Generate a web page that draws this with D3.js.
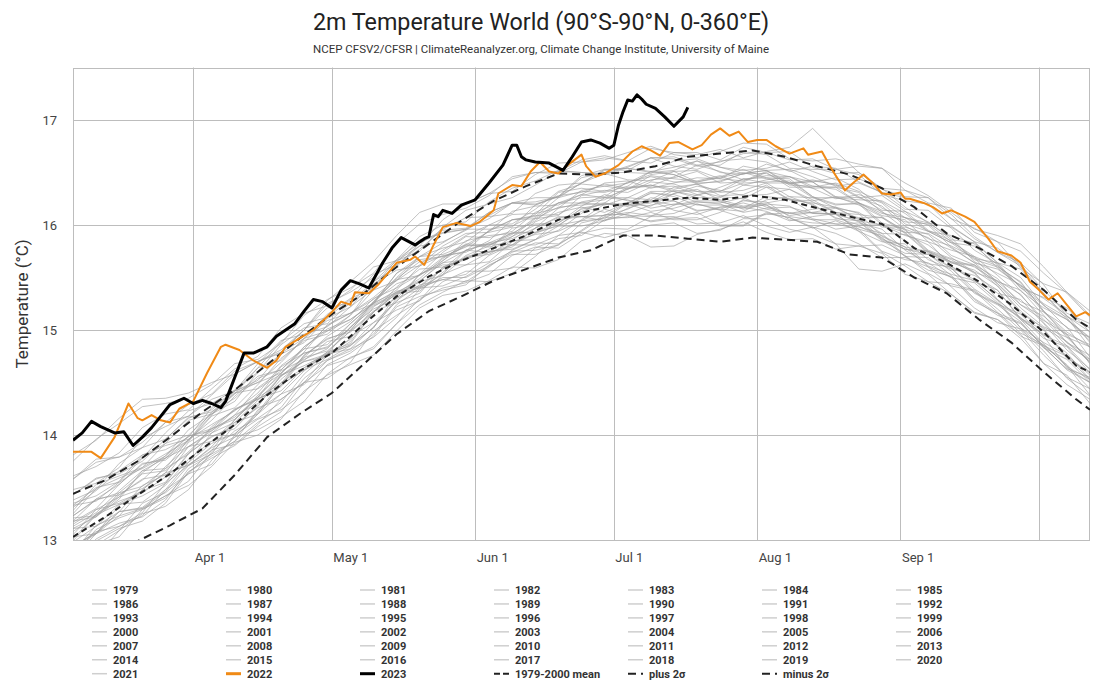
<!DOCTYPE html>
<html><head><meta charset="utf-8">
<script src="https://cdn.jsdelivr.net/npm/d3@7"></script>
<style>
body{margin:0;background:#fff;}
text{font-family:Roboto,"Noto Sans",sans-serif;}
</style>
</head><body>
<svg id="chart" width="1100" height="700"></svg>
<script>
// ---------- DATA (day-of-year 2023 calendar, °C) ----------
const titleText = "2m Temperature World (90°S-90°N, 0-360°E)";
const subtitleText = "NCEP CFSV2/CFSR | ClimateReanalyzer.org, Climate Change Institute, University of Maine";
const yTicks = [13, 14, 15, 16, 17];
const monthLabels = ["Apr 1", "May 1", "Jun 1", "Jul 1", "Aug 1", "Sep 1"];

const grayDays = [65,70,75,80,85,90,95,100,105,110,115,120,125,130,135,140,145,150,155,160,165,170,175,180,185,190,195,200,205,210,215,220,225,230,235,240,245,250,255,260,265,270,275,280,285];
const t1979 = [12.83,13.06,13.16,13.22,13.38,13.68,13.82,13.94,14.12,14.26,14.54,14.71,14.80,14.96,15.24,15.40,15.42,15.51,15.64,15.75,15.76,15.81,16.02,16.07,16.07,16.12,16.05,16.05,16.12,16.24,16.19,16.05,16.02,16.01,15.96,15.75,15.67,15.64,15.50,15.29,15.14,15.06,14.84,14.62,14.50];
const t1980 = [12.98,13.13,13.34,13.36,13.52,13.77,13.94,14.01,14.20,14.48,14.62,14.79,14.99,15.18,15.26,15.35,15.60,15.69,15.72,15.85,15.86,15.95,16.11,16.26,16.24,16.16,16.20,16.20,16.15,16.13,16.24,16.27,16.19,16.07,16.00,16.00,15.85,15.67,15.58,15.52,15.38,15.11,14.96,14.78,14.53];
const t1981 = [13.11,13.13,13.27,13.52,13.62,13.72,13.85,14.15,14.35,14.42,14.64,14.79,14.87,15.17,15.35,15.40,15.53,15.76,15.82,15.81,15.92,16.00,16.04,16.06,16.21,16.30,16.29,16.22,16.21,16.26,16.17,16.11,16.15,16.17,16.11,15.89,15.79,15.75,15.65,15.55,15.29,15.11,15.00,14.73,14.59];
const t1982 = [12.78,13.01,13.13,13.23,13.48,13.63,13.72,14.00,14.15,14.24,14.40,14.67,14.78,14.94,15.22,15.32,15.38,15.43,15.62,15.72,15.72,15.81,15.95,16.10,16.10,16.03,16.06,16.07,15.99,15.99,16.11,16.07,15.97,16.04,15.94,15.74,15.61,15.46,15.44,15.38,15.20,15.00,14.76,14.55,14.44];
const t1983 = [13.23,13.39,13.43,13.57,13.78,13.99,14.04,14.19,14.45,14.61,14.72,14.82,15.06,15.26,15.36,15.47,15.64,15.76,15.74,15.81,15.97,16.07,16.08,16.09,16.21,16.23,16.19,16.29,16.22,16.17,16.19,16.09,16.12,16.10,15.96,15.90,15.79,15.60,15.50,15.45,15.26,15.02,14.83,14.72,14.50];
const t1984 = [12.91,12.95,13.09,13.35,13.45,13.63,13.86,13.91,14.10,14.34,14.50,14.54,14.69,14.99,15.14,15.28,15.46,15.56,15.56,15.59,15.78,15.87,15.90,16.05,16.08,16.04,16.07,16.12,16.00,16.00,16.12,16.07,15.98,15.82,15.80,15.81,15.71,15.54,15.42,15.37,15.17,14.97,14.86,14.66,14.38];
const t1985 = [12.73,12.84,13.09,13.25,13.32,13.48,13.76,13.98,14.05,14.17,14.32,14.58,14.74,14.82,15.06,15.24,15.36,15.47,15.46,15.54,15.70,15.90,15.93,15.88,15.94,16.00,16.02,15.92,15.95,16.06,16.06,15.96,15.91,15.82,15.58,15.56,15.63,15.53,15.34,15.16,15.10,14.92,14.68,14.57,14.30];
const t1986 = [12.85,13.10,13.21,13.29,13.40,13.65,13.80,13.94,14.24,14.39,14.48,14.71,14.82,14.93,15.12,15.39,15.50,15.50,15.61,15.74,15.83,15.82,15.94,16.08,16.12,16.09,16.11,16.20,16.14,16.07,16.10,16.12,16.05,15.96,15.99,15.88,15.70,15.69,15.52,15.30,15.16,14.94,14.85,14.75,14.52];
const t1987 = [12.95,13.06,13.33,13.47,13.55,13.83,13.98,14.09,14.27,14.57,14.70,14.75,14.92,15.17,15.37,15.41,15.58,15.76,15.83,15.87,15.97,16.16,16.21,16.19,16.26,16.36,16.37,16.29,16.32,16.40,16.41,16.42,16.27,16.16,16.12,15.98,15.98,15.91,15.71,15.62,15.49,15.24,15.09,14.96,14.68];
const t1988 = [13.13,13.26,13.47,13.66,13.68,13.82,14.08,14.24,14.36,14.49,14.76,14.92,14.98,15.17,15.41,15.58,15.60,15.67,15.83,15.92,15.93,15.99,16.16,16.20,16.18,16.31,16.27,16.19,16.19,16.16,16.27,16.25,16.11,16.10,16.04,15.86,15.77,15.75,15.59,15.39,15.25,15.15,14.94,14.64,14.50];
const t1989 = [12.88,13.14,13.23,13.30,13.42,13.56,13.84,14.04,14.16,14.31,14.58,14.77,14.82,15.03,15.28,15.43,15.48,15.46,15.60,15.76,15.86,15.99,15.99,16.04,16.16,16.23,16.14,16.10,16.17,16.17,16.13,16.04,16.08,16.11,16.03,15.85,15.73,15.72,15.56,15.35,15.24,15.08,14.83,14.63,14.55];
const t1990 = [13.15,13.29,13.35,13.47,13.70,13.89,13.94,14.14,14.38,14.57,14.66,14.77,15.03,15.20,15.30,15.53,15.64,15.67,15.77,15.97,16.01,16.02,16.15,16.20,16.20,16.18,16.30,16.37,16.33,16.28,16.29,16.34,16.24,16.12,16.10,16.07,15.95,15.75,15.67,15.54,15.35,15.29,15.06,14.81,14.63];
const t1991 = [13.08,13.24,13.43,13.58,13.62,13.74,14.02,14.19,14.30,14.56,14.70,14.77,14.91,15.22,15.36,15.42,15.59,15.69,15.74,15.79,15.97,16.08,16.08,16.09,16.15,16.26,16.23,16.14,16.15,16.23,16.22,16.08,16.05,16.05,15.98,15.92,15.70,15.57,15.51,15.27,15.16,15.07,14.85,14.67,14.44];
const t1992 = [12.83,12.96,13.03,13.29,13.42,13.52,13.70,13.93,14.00,14.15,14.42,14.57,14.67,14.76,14.99,15.21,15.33,15.37,15.47,15.60,15.59,15.67,15.85,15.92,15.90,15.79,15.80,15.91,15.96,16.03,15.93,15.86,15.87,15.77,15.80,15.73,15.53,15.46,15.34,15.17,15.10,14.96,14.68,14.48,14.34];
const t1993 = [12.75,12.99,13.11,13.18,13.35,13.65,13.78,13.90,14.08,14.22,14.50,14.66,14.73,14.84,15.06,15.30,15.40,15.45,15.53,15.71,15.79,15.78,15.92,15.97,15.96,16.08,16.08,16.01,16.02,16.09,15.99,15.93,15.98,15.92,15.82,15.69,15.69,15.60,15.41,15.21,15.07,15.01,14.80,14.54,14.37];
const t1994 = [12.91,13.06,13.27,13.30,13.46,13.71,13.88,13.98,14.20,14.48,14.62,14.72,14.85,15.07,15.19,15.28,15.53,15.62,15.65,15.84,15.91,15.94,16.04,16.15,16.09,16.08,16.19,16.23,16.23,16.15,16.20,16.18,16.06,16.01,16.02,15.96,15.76,15.63,15.60,15.48,15.28,15.02,14.88,14.76,14.57];
const t1995 = [13.18,13.22,13.39,13.66,13.78,13.89,14.04,14.24,14.34,14.47,14.76,14.91,15.00,15.23,15.33,15.46,15.66,15.81,15.79,15.85,16.03,16.12,16.17,16.12,16.21,16.32,16.32,16.26,16.26,16.38,16.36,16.24,16.21,16.17,16.05,15.92,15.91,15.81,15.64,15.61,15.42,15.18,15.01,14.74,14.60];
const t1996 = [12.93,13.08,13.13,13.26,13.54,13.71,13.82,14.10,14.26,14.34,14.50,14.76,14.86,15.02,15.30,15.41,15.48,15.53,15.71,15.81,15.81,15.90,16.05,16.20,16.20,16.13,16.16,16.22,16.20,16.12,16.16,16.17,16.11,16.11,15.94,15.84,15.82,15.61,15.53,15.47,15.29,15.10,14.87,14.65,14.53];
const t1997 = [13.01,13.25,13.37,13.45,13.60,13.89,14.02,14.12,14.33,14.56,14.74,14.80,14.99,15.27,15.44,15.52,15.66,15.85,15.90,15.92,16.04,16.21,16.29,16.26,16.34,16.43,16.45,16.51,16.40,16.41,16.50,16.36,16.36,16.40,16.32,16.22,16.07,15.94,15.90,15.82,15.59,15.42,15.30,15.14,14.88];
const t1998 = [13.48,13.54,13.69,13.97,14.08,14.18,14.34,14.42,14.64,14.89,15.06,15.12,15.29,15.53,15.62,15.77,15.96,16.07,16.08,16.11,16.30,16.38,16.40,16.53,16.54,16.51,16.55,16.61,16.50,16.48,16.58,16.52,16.41,16.27,16.26,16.18,15.99,15.87,15.80,15.69,15.44,15.24,15.13,14.95,14.68];
const t1999 = [13.03,13.06,13.23,13.48,13.64,13.71,13.89,14.12,14.20,14.39,14.61,14.78,14.85,15.02,15.34,15.46,15.52,15.70,15.75,15.77,15.86,16.05,16.08,16.04,16.11,16.19,16.23,16.13,16.17,16.21,16.15,16.11,16.12,16.16,16.06,15.87,15.77,15.72,15.59,15.36,15.25,15.12,14.92,14.84,14.59];
const t2000 = [12.99,13.24,13.34,13.42,13.54,13.82,13.99,14.06,14.29,14.53,14.71,14.89,14.94,15.07,15.27,15.53,15.62,15.62,15.74,15.89,16.00,16.00,16.13,16.21,16.18,16.21,16.30,16.34,16.24,16.18,16.21,16.25,16.20,16.06,16.04,16.00,15.90,15.84,15.61,15.46,15.38,15.10,14.95,14.85,14.62];
const t2001 = [13.21,13.23,13.41,13.64,13.80,13.99,14.06,14.17,14.36,14.65,14.78,14.84,15.02,15.27,15.48,15.52,15.69,15.80,15.81,15.91,16.07,16.21,16.21,16.24,16.36,16.38,16.32,16.28,16.36,16.44,16.45,16.44,16.27,16.20,16.20,16.00,15.93,15.92,15.78,15.64,15.46,15.27,15.17,15.03,14.74];
const t2002 = [13.35,13.42,13.56,13.81,13.90,13.96,14.14,14.37,14.56,14.62,14.82,15.04,15.16,15.29,15.47,15.70,15.78,15.84,16.00,16.10,16.11,16.16,16.33,16.37,16.34,16.47,16.44,16.42,16.47,16.38,16.43,16.46,16.37,16.36,16.31,16.12,16.03,16.01,15.84,15.70,15.61,15.45,15.18,14.93,14.84];
const t2003 = [13.28,13.53,13.61,13.69,13.82,13.95,14.22,14.40,14.50,14.59,14.79,15.05,15.16,15.31,15.49,15.65,15.70,15.75,15.95,16.05,16.08,16.26,16.32,16.31,16.37,16.51,16.48,16.39,16.42,16.49,16.52,16.38,16.37,16.34,16.21,16.11,16.07,16.00,15.79,15.64,15.58,15.42,15.17,14.96,14.86];
const t2004 = [13.23,13.38,13.45,13.51,13.68,13.96,14.10,14.23,14.40,14.66,14.82,14.86,15.06,15.25,15.38,15.61,15.71,15.74,15.85,16.05,16.09,16.10,16.22,16.26,16.26,16.24,16.36,16.39,16.31,16.33,16.40,16.40,16.26,16.19,16.21,16.13,15.96,15.76,15.68,15.60,15.46,15.38,15.14,14.88,14.70];
const t2005 = [13.31,13.47,13.66,13.81,13.86,13.98,14.26,14.42,14.52,14.78,14.92,14.99,15.14,15.44,15.57,15.61,15.76,15.90,16.00,16.01,16.15,16.32,16.39,16.37,16.40,16.51,16.48,16.40,16.41,16.49,16.49,16.40,16.43,16.38,16.26,16.28,16.13,15.95,15.85,15.68,15.64,15.50,15.23,15.10,14.92];
const t2006 = [13.18,13.39,13.53,13.72,13.78,13.95,14.19,14.40,14.44,14.58,14.84,14.99,15.10,15.25,15.54,15.67,15.70,15.79,15.94,16.13,16.18,16.19,16.29,16.40,16.42,16.35,16.40,16.45,16.44,16.56,16.52,16.40,16.35,16.25,16.29,16.21,16.01,15.94,15.83,15.67,15.60,15.46,15.18,14.98,14.84];
const t2007 = [13.43,13.59,13.63,13.75,13.96,14.17,14.22,14.35,14.54,14.62,14.84,15.01,15.10,15.26,15.54,15.70,15.72,15.81,15.94,16.05,16.06,16.09,16.28,16.33,16.31,16.41,16.39,16.32,16.32,16.44,16.40,16.27,16.26,16.26,16.21,16.02,15.96,15.88,15.69,15.55,15.47,15.34,15.07,14.85,14.72];
const t2008 = [12.93,13.07,13.27,13.31,13.48,13.74,13.92,14.01,14.22,14.50,14.64,14.75,14.89,15.17,15.35,15.37,15.55,15.71,15.80,15.93,15.93,16.02,16.18,16.29,16.23,16.22,16.33,16.32,16.27,16.25,16.36,16.34,16.22,16.12,16.07,16.07,15.92,15.73,15.64,15.57,15.42,15.16,15.02,14.89,14.70];
const t2009 = [13.11,13.22,13.45,13.63,13.66,13.84,14.06,14.25,14.34,14.46,14.74,14.94,15.08,15.30,15.40,15.53,15.74,15.89,15.88,15.94,16.12,16.21,16.26,16.27,16.41,16.46,16.41,16.41,16.46,16.53,16.45,16.39,16.42,16.39,16.27,16.14,16.13,16.03,15.86,15.83,15.64,15.40,15.24,15.02,14.93];
const t2010 = [13.58,13.74,13.79,13.88,14.12,14.29,14.39,14.61,14.70,14.81,15.00,15.21,15.26,15.41,15.67,15.83,15.95,15.97,16.12,16.21,16.19,16.27,16.40,16.49,16.43,16.42,16.51,16.52,16.44,16.42,16.51,16.46,16.35,16.36,16.21,16.09,16.05,15.84,15.76,15.70,15.52,15.33,15.10,14.88,14.76];
const t2011 = [13.05,13.29,13.41,13.49,13.64,13.93,14.06,14.15,14.36,14.59,14.78,14.83,15.02,15.24,15.35,15.49,15.68,15.82,15.81,15.89,16.06,16.17,16.19,16.21,16.35,16.38,16.34,16.39,16.28,16.29,16.38,16.24,16.23,16.27,16.19,16.08,15.93,15.74,15.65,15.62,15.44,15.21,15.03,14.93,14.72];
const t2012 = [13.17,13.30,13.53,13.73,13.76,13.94,14.18,14.26,14.48,14.73,14.90,14.96,15.14,15.38,15.47,15.62,15.80,15.92,15.93,15.98,16.19,16.28,16.31,16.39,16.35,16.37,16.46,16.57,16.51,16.43,16.47,16.46,16.41,16.26,16.24,16.23,16.11,15.94,15.83,15.80,15.62,15.37,15.21,15.10,14.90];
const t2013 = [13.33,13.37,13.55,13.78,13.92,14.00,14.20,14.42,14.50,14.69,14.92,15.09,15.16,15.25,15.50,15.70,15.83,15.96,15.96,15.99,16.10,16.31,16.35,16.32,16.40,16.48,16.51,16.41,16.45,16.50,16.44,16.40,16.41,16.45,16.34,16.16,16.07,16.02,15.88,15.65,15.54,15.43,15.25,15.12,14.83];
const t2014 = [13.25,13.49,13.59,13.68,13.80,14.05,14.20,14.32,14.60,14.77,14.88,15.11,15.22,15.39,15.64,15.86,15.92,15.96,16.12,16.21,16.26,16.26,16.40,16.52,16.54,16.50,16.52,16.61,16.55,16.49,16.52,16.53,16.46,16.37,16.40,16.31,16.15,16.14,15.97,15.76,15.63,15.40,15.31,15.21,14.98];
const t2015 = [13.38,13.48,13.73,13.88,13.96,14.16,14.24,14.42,14.68,14.90,14.96,15.03,15.22,15.46,15.66,15.75,15.98,16.14,16.20,16.26,16.38,16.51,16.50,16.48,16.55,16.64,16.65,16.57,16.60,16.68,16.69,16.70,16.55,16.49,16.50,16.35,16.33,16.26,16.06,15.97,15.84,15.59,15.44,15.36,15.14];
const t2016 = [13.81,13.95,14.16,14.34,14.35,14.40,14.50,14.58,14.70,14.78,15.00,15.28,15.46,15.65,15.90,16.12,16.20,16.20,16.30,16.44,16.50,16.49,16.60,16.64,16.61,16.73,16.69,16.67,16.72,16.64,16.70,16.74,16.92,16.70,16.50,16.34,16.27,16.26,16.10,15.89,15.74,15.64,15.43,15.13,14.98];
const t2017 = [13.58,13.77,13.79,13.93,14.12,14.18,14.38,14.58,14.70,14.79,15.00,15.25,15.36,15.50,15.67,15.89,16.00,16.03,16.22,16.35,16.42,16.52,16.50,16.49,16.56,16.64,16.56,16.53,16.61,16.63,16.60,16.51,16.56,16.54,16.41,16.31,16.26,16.20,15.99,15.84,15.78,15.62,15.38,15.16,15.06];
const t2018 = [13.43,13.58,13.65,13.78,14.02,14.23,14.30,14.43,14.60,14.86,15.02,15.06,15.26,15.46,15.60,15.83,15.93,15.96,16.06,16.21,16.20,16.27,16.45,16.50,16.50,16.49,16.61,16.63,16.55,16.52,16.54,16.60,16.51,16.43,16.44,16.35,16.17,16.02,15.98,15.84,15.64,15.58,15.35,15.10,14.93];
const t2019 = [13.61,13.70,13.83,14.07,14.20,14.24,14.44,14.63,14.75,15.02,15.16,15.23,15.38,15.60,15.66,15.80,16.05,16.20,16.30,16.32,16.48,16.59,16.60,16.62,16.69,16.75,16.67,16.64,16.70,16.78,16.77,16.63,16.61,16.63,16.58,16.54,16.33,16.21,16.16,15.93,15.84,15.75,15.54,15.35,15.12];
const t2020 = [13.75,13.96,14.11,14.27,14.30,14.35,14.48,14.68,14.72,14.87,15.14,15.29,15.40,15.54,15.82,16.01,16.10,16.16,16.28,16.46,16.50,16.51,16.62,16.66,16.61,16.59,16.69,16.69,16.62,16.74,16.69,16.62,16.63,16.53,16.56,16.54,16.40,16.28,16.12,15.96,15.90,15.82,15.60,15.36,15.18];
const t2021 = [13.33,13.50,13.55,13.69,13.92,14.14,14.20,14.39,14.64,14.71,14.92,15.15,15.30,15.40,15.62,15.80,15.84,15.95,16.09,16.21,16.22,16.27,16.47,16.53,16.52,16.64,16.63,16.56,16.57,16.70,16.67,16.54,16.53,16.53,16.48,16.29,16.23,16.20,16.06,15.87,15.74,15.61,15.34,15.13,15.02];

const days2022 = [65,69,71,74,77,79,80,82,84,86,88,91,94,97,98,101,104,107,109,111,114,117,121,123,125,126,129,131,135,138,139,141,143,145,148,151,153,156,157,160,162,164,166,168,170,172,175,176,178,180,183,186,188,190,192,194,196,199,201,203,205,207,209,211,213,215,217,220,223,224,227,229,232,234,236,238,240,242,244,245,246,249,251,253,255,258,260,263,265,268,270,272,274,276,278,280,282,284,285];
const temp2022 = [13.84,13.84,13.78,13.98,14.30,14.16,14.14,14.19,14.14,14.12,14.25,14.32,14.59,14.84,14.86,14.81,14.71,14.64,14.71,14.84,14.92,15.00,15.17,15.27,15.24,15.36,15.35,15.43,15.64,15.67,15.70,15.62,15.81,15.98,16.02,15.99,16.03,16.14,16.30,16.38,16.37,16.51,16.60,16.51,16.49,16.57,16.67,16.56,16.46,16.49,16.57,16.70,16.75,16.71,16.66,16.78,16.79,16.72,16.76,16.86,16.92,16.85,16.89,16.79,16.81,16.81,16.75,16.68,16.73,16.67,16.70,16.54,16.33,16.41,16.48,16.40,16.30,16.29,16.31,16.25,16.25,16.21,16.17,16.11,16.14,16.08,16.03,15.87,15.75,15.71,15.64,15.46,15.38,15.29,15.35,15.24,15.13,15.17,15.14];

const days2023 = [65,67,69,71,74,76,78,80,82,84,86,88,89,91,93,95,97,98,100,102,104,107,109,111,113,115,117,119,121,123,125,127,129,132,134,136,139,141,142,143,144,145,147,149,152,155,158,160,161,162,163,165,168,171,173,175,177,179,181,182,183,184,185,186,187,188,189,191,193,195,197,198];
const temp2023 = [13.95,14.02,14.13,14.08,14.02,14.03,13.90,13.98,14.07,14.18,14.29,14.33,14.35,14.30,14.33,14.30,14.26,14.32,14.55,14.78,14.78,14.84,14.94,15.00,15.06,15.18,15.29,15.27,15.21,15.38,15.47,15.44,15.40,15.64,15.78,15.88,15.81,15.87,15.89,16.10,16.08,16.14,16.11,16.19,16.24,16.40,16.57,16.76,16.76,16.65,16.62,16.60,16.59,16.52,16.65,16.79,16.81,16.78,16.73,16.76,16.95,17.08,17.19,17.18,17.24,17.20,17.15,17.11,17.03,16.94,17.03,17.12];

const climDays = [65,72,79,86,93,100,107,114,121,128,135,142,149,156,163,170,177,184,191,198,205,212,219,226,233,240,247,254,261,268,275,282,285];
const meanTemp = [13.03,13.22,13.43,13.63,13.87,14.10,14.38,14.61,14.78,15.06,15.32,15.51,15.66,15.78,15.90,16.05,16.14,16.20,16.23,16.26,16.24,16.28,16.24,16.16,16.08,16.01,15.78,15.64,15.46,15.24,14.98,14.66,14.60];
const plus2Temp = [13.44,13.57,13.75,13.98,14.22,14.43,14.67,14.92,15.15,15.35,15.60,15.82,16.04,16.23,16.37,16.49,16.48,16.50,16.56,16.65,16.68,16.71,16.65,16.56,16.48,16.35,16.17,15.92,15.78,15.61,15.38,15.10,15.02];
const minus2Temp = [12.72,12.82,12.99,13.14,13.30,13.62,13.98,14.20,14.40,14.68,14.96,15.18,15.32,15.47,15.58,15.69,15.76,15.90,15.90,15.87,15.84,15.88,15.86,15.84,15.72,15.69,15.50,15.35,15.10,14.88,14.60,14.34,14.24];

const grayYears = [
  [1979,t1979],[1980,t1980],[1981,t1981],[1982,t1982],[1983,t1983],[1984,t1984],[1985,t1985],
  [1986,t1986],[1987,t1987],[1988,t1988],[1989,t1989],[1990,t1990],[1991,t1991],[1992,t1992],
  [1993,t1993],[1994,t1994],[1995,t1995],[1996,t1996],[1997,t1997],[1998,t1998],[1999,t1999],
  [2000,t2000],[2001,t2001],[2002,t2002],[2003,t2003],[2004,t2004],[2005,t2005],[2006,t2006],
  [2007,t2007],[2008,t2008],[2009,t2009],[2010,t2010],[2011,t2011],[2012,t2012],[2013,t2013],
  [2014,t2014],[2015,t2015],[2016,t2016],[2017,t2017],[2018,t2018],[2019,t2019],[2020,t2020],[2021,t2021]
];

// ---------- CHART ----------
const svg = d3.select("#chart");
const L = 73, R = 1090, T = 67.5, B = 540;
const dayToDate = d => new Date(2023, 0, d);
const x = d3.scaleTime().domain([dayToDate(65), dayToDate(285)]).range([L, R]);
const y = d3.scaleLinear().domain([13, 17.5]).range([B, T]);

svg.append("rect").attr("width", 1100).attr("height", 700).attr("fill", "#fff");
svg.append("defs").append("clipPath").attr("id", "plotclip")
  .append("rect").attr("x", L).attr("y", T).attr("width", R - L).attr("height", B - T);

// title
svg.append("text").attr("x", 541).attr("y", 30).attr("text-anchor", "middle")
  .attr("font-size", 23.3).attr("fill", "#222").text(titleText);
svg.append("text").attr("x", 541).attr("y", 53).attr("text-anchor", "middle")
  .attr("font-size", 11.5).attr("fill", "#333").text(subtitleText);

// grid
const gridColor = "#bdbdbd";
const gridG = svg.append("g");
const monthStarts = d3.timeMonth.range(dayToDate(66), dayToDate(285));
gridG.selectAll("line.v").data(monthStarts).join("line").attr("class", "v")
  .attr("x1", d => Math.round(x(d)) + 0.5).attr("x2", d => Math.round(x(d)) + 0.5)
  .attr("y1", T).attr("y2", B).attr("stroke", gridColor).attr("stroke-width", 1);
gridG.selectAll("line.h").data(yTicks.filter(v => v > 13)).join("line").attr("class", "h")
  .attr("x1", L).attr("x2", R)
  .attr("y1", d => Math.round(y(d)) + 0.5).attr("y2", d => Math.round(y(d)) + 0.5)
  .attr("stroke", gridColor).attr("stroke-width", 1);
gridG.append("rect").attr("x", L + 0.5).attr("y", Math.round(T) + 0.5)
  .attr("width", R - L - 1).attr("height", B - Math.round(T))
  .attr("fill", "none").attr("stroke", gridColor);

// axes
const yAxis = d3.axisLeft(y).tickValues(yTicks).tickSize(0).tickPadding(16).tickFormat(d3.format("d"));
const yg = svg.append("g").attr("transform", `translate(${L},0)`).call(yAxis);
yg.select(".domain").remove();
yg.selectAll("text").attr("font-size", 13).attr("fill", "#444").attr("font-family", "Roboto");

const labelDates = monthLabels.map(s => d3.timeParse("%b %d %Y")(s + " 2023"));
const xAxis = d3.axisBottom(x).tickValues(labelDates).tickSize(0).tickPadding(13)
  .tickFormat((d, i) => monthLabels[i]);
const xg = svg.append("g").attr("transform", `translate(0,${B})`).call(xAxis);
xg.select(".domain").remove();
xg.selectAll("text").attr("font-size", 13).attr("fill", "#444").attr("text-anchor", "start")
  .attr("dx", 1).attr("font-family", "Roboto");

svg.append("text").attr("transform", "translate(28,304) rotate(-90)")
  .attr("text-anchor", "middle").attr("font-size", 17).attr("fill", "#333")
  .text("Temperature (°C)");

// lines
const line = d3.line().x(d => x(dayToDate(d[0]))).y(d => y(d[1]));
const plot = svg.append("g").attr("clip-path", "url(#plotclip)");

plot.selectAll("path.gray").data(grayYears).join("path").attr("class", "gray")
  .attr("d", d => line(d3.zip(grayDays, d[1])))
  .attr("fill", "none").attr("stroke", "#9e9e9e").attr("stroke-width", 0.7)
  .attr("stroke-opacity", 0.9).attr("stroke-linejoin", "round");

const climSeries = [
  {vals: minus2Temp, dash: "8,5"},
  {vals: meanTemp, dash: "6,4"},
  {vals: plus2Temp, dash: "8,5"}
];
plot.selectAll("path.clim").data(climSeries).join("path").attr("class", "clim")
  .attr("d", d => line(d3.zip(climDays, d.vals)))
  .attr("fill", "none").attr("stroke", "#222").attr("stroke-width", 2).attr("stroke-dasharray", d => d.dash);

plot.append("path").attr("d", line(d3.zip(days2022, temp2022)))
  .attr("fill", "none").attr("stroke", "#f08a16").attr("stroke-width", 2).attr("stroke-linejoin", "round");
plot.append("path").attr("d", line(d3.zip(days2023, temp2023)))
  .attr("fill", "none").attr("stroke", "#000").attr("stroke-width", 3).attr("stroke-linejoin", "round");

// legend
const legendItems = grayYears.map(g => ({label: String(g[0]), stroke: "#cfcfcf", w: 1.5, dash: null}))
  .concat([
    {label: "2022", stroke: "#f08a16", w: 3, dash: null},
    {label: "2023", stroke: "#000", w: 3, dash: null},
    {label: "1979-2000 mean", stroke: "#222", w: 2, dash: "6,3"},
    {label: "plus 2σ", stroke: "#222", w: 2, dash: "8,5"},
    {label: "minus 2σ", stroke: "#222", w: 2, dash: "8,5"}
  ]);
const lg = svg.append("g");
const item = lg.selectAll("g").data(legendItems).join("g")
  .attr("transform", (d, i) => `translate(${92 + 134 * (i % 7)},${590 + 13.95 * Math.floor(i / 7)})`);
item.append("line").attr("x1", 0).attr("x2", 15).attr("y1", 0).attr("y2", 0)
  .attr("stroke", d => d.stroke).attr("stroke-width", d => d.w)
  .attr("stroke-dasharray", d => d.dash);
item.append("text").attr("x", 21).attr("y", 4).attr("font-size", 11).attr("font-weight", "bold")
  .attr("fill", "#333").text(d => d.label);
</script>
</body></html>
